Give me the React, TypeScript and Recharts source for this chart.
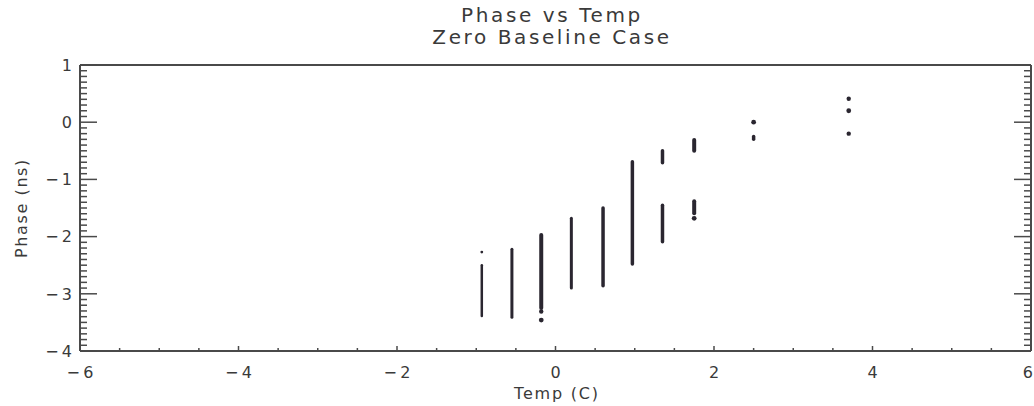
import React from 'react';
import { ScatterChart, Scatter, XAxis, YAxis } from 'recharts';

// Vertical runs of samples: temperature (C), lowest and highest phase (ns)
const segTemp = [-0.93, -0.55, -0.18, 0.2, 0.6, 0.97, 1.35, 1.35, 1.75, 1.75, 2.5];
const segLow = [-3.39, -3.41, -3.25, -2.9, -2.86, -2.48, -2.09, -0.71, -1.59, -0.5, -0.3];
const segHigh = [-2.5, -2.22, -1.97, -1.68, -1.5, -0.69, -1.45, -0.5, -1.38, -0.31, -0.25];
const segWidth = [2.5, 3, 4, 3, 3.5, 3.5, 3.5, 3.5, 4, 4, 3.5];

// Isolated samples
const dotTemp = [-0.93, -0.18, -0.18, 1.75, 2.5, 3.7, 3.7, 3.7];
const dotPhase = [-2.27, -3.31, -3.46, -1.68, 0.0, 0.41, 0.2, -0.2];
const dotSize = [1.4, 2.2, 2.4, 2.4, 2.4, 2.2, 2.4, 2.2];

const xMajorTicks = [-6, -4, -2, 0, 2, 4, 6];
const yMajorTicks = [-4, -3, -2, -1, 0, 1];
const xMinorStep = 0.5;
const yMinorStep = 0.1;

const titleLine1 = 'Phase vs Temp';
const titleLine2 = 'Zero Baseline Case';
const xTitle = 'Temp (C)';
const yTitle = 'Phase (ns)';

function stepTicks(lo: number, hi: number, step: number): number[] {
  const n = Math.round((hi - lo) / step);
  const out: number[] = [];
  for (let i = 0; i <= n; i++) out.push(Math.round((lo + i * step) * 1000) / 1000);
  return out;
}

const xTicks = stepTicks(xMajorTicks[0], xMajorTicks[xMajorTicks.length - 1], xMinorStep);
const yTicks = stepTicks(yMajorTicks[0], yMajorTicks[yMajorTicks.length - 1], yMinorStep);

const segments = segTemp.map((t, i) => ({
  data: [
    { t, p: segLow[i] },
    { t, p: segHigh[i] },
  ],
  w: segWidth[i],
}));
const dots = dotTemp.map((t, i) => ({ t, p: dotPhase[i], r: dotSize[i] }));

const INK = '#2a2630';
const AXIS = '#4a4a4a';
const TEXT = '#3a3a3a';
const FONT = '"DejaVu Sans", sans-serif';

const fmt = (v: number) => (v < 0 ? '\u2212\u2009' + Math.abs(v) : String(v));
const isMajorX = (v: number) => xMajorTicks.some((m) => Math.abs(m - v) < 1e-6);
const isMajorY = (v: number) => yMajorTicks.some((m) => Math.abs(m - v) < 1e-6);

const PLOT_TOP = 65;
const PLOT_BOTTOM = 351;
const PLOT_LEFT = 80;
const PLOT_RIGHT = 1031;

const BottomTick = (props: any) => {
  const { x, payload } = props;
  const y = PLOT_BOTTOM;
  const v = payload.value;
  const major = isMajorX(v);
  const isLast = Math.abs(v - xMajorTicks[xMajorTicks.length - 1]) < 1e-6;
  return (
    <g>
      <line x1={x} x2={x} y1={y} y2={y - (major ? 5 : 3)} stroke={AXIS} strokeWidth={1.5} />
      {major && (
        <text
          x={isLast ? x + 2 : x}
          y={y + 27}
          textAnchor={isLast ? 'end' : 'middle'}
          fontSize={16}
          fontFamily={FONT}
          fill={TEXT}
        >
          {fmt(v)}
        </text>
      )}
    </g>
  );
};

const TopTick = (props: any) => {
  const { x, payload } = props;
  const y = PLOT_TOP;
  const major = isMajorX(payload.value);
  return <line x1={x} x2={x} y1={y} y2={y + (major ? 5 : 3)} stroke={AXIS} strokeWidth={1.5} />;
};

const LeftTick = (props: any) => {
  const { y, payload } = props;
  const x = PLOT_LEFT;
  const v = payload.value;
  const major = isMajorY(v);
  return (
    <g>
      <line x1={x} x2={x + (major ? 17 : 7)} y1={y} y2={y} stroke={AXIS} strokeWidth={1.5} />
      {major && (
        <text x={x - 8} y={y} dy="0.36em" textAnchor="end" fontSize={16} fontFamily={FONT} fill={TEXT}>
          {fmt(v)}
        </text>
      )}
    </g>
  );
};

const RightTick = (props: any) => {
  const { y, payload } = props;
  const x = PLOT_RIGHT;
  const major = isMajorY(payload.value);
  return <line x1={x} x2={x - (major ? 17 : 7)} y1={y} y2={y} stroke={AXIS} strokeWidth={1.5} />;
};

const DotShape = (props: any) => {
  const { cx, cy, payload } = props;
  return <circle cx={cx} cy={cy} r={payload.r} fill={INK} />;
};

const NoShape = () => <g />;

export default function App() {
  return (
    <div style={{ position: 'absolute', left: 0, top: 0, width: 1034, height: 406, background: '#fff' }}>
      <ScatterChart
        width={1034}
        height={406}
        margin={{ top: PLOT_TOP - 1, right: 1034 - PLOT_RIGHT - 1, bottom: 406 - PLOT_BOTTOM - 1, left: PLOT_LEFT - 1 }}
      >
        <XAxis
          xAxisId={0}
          dataKey="t"
          type="number"
          domain={[-6, 6]}
          ticks={xTicks}
          interval={0}
          allowDataOverflow
          height={1}
          tickSize={0}
          tickMargin={0}
          tickLine={false}
          tick={<BottomTick />}
          axisLine={{ stroke: AXIS, strokeWidth: 2 }}
        />
        <XAxis
          xAxisId="top"
          orientation="top"
          type="number"
          domain={[-6, 6]}
          ticks={xTicks}
          interval={0}
          allowDataOverflow
          height={1}
          tickSize={0}
          tickMargin={0}
          tickLine={false}
          tick={<TopTick />}
          axisLine={{ stroke: AXIS, strokeWidth: 2 }}
        />
        <YAxis
          yAxisId={0}
          dataKey="p"
          type="number"
          domain={[-4, 1]}
          ticks={yTicks}
          interval={0}
          allowDataOverflow
          width={1}
          tickSize={0}
          tickMargin={0}
          tickLine={false}
          tick={<LeftTick />}
          axisLine={{ stroke: AXIS, strokeWidth: 2 }}
        />
        <YAxis
          yAxisId="right"
          orientation="right"
          type="number"
          domain={[-4, 1]}
          ticks={yTicks}
          interval={0}
          allowDataOverflow
          width={1}
          tickSize={0}
          tickMargin={0}
          tickLine={false}
          tick={<RightTick />}
          axisLine={{ stroke: AXIS, strokeWidth: 2 }}
        />
        {segments.map((s, i) => (
          <Scatter
            key={'seg' + i}
            data={s.data}
            line={{ stroke: INK, strokeWidth: s.w, strokeLinecap: 'round' } as any}
            lineType="joint"
            shape={<NoShape />}
            fill={INK}
            isAnimationActive={false}
          />
        ))}
        <Scatter data={dots} shape={<DotShape />} fill={INK} isAnimationActive={false} />
      </ScatterChart>
      <div
        style={{
          position: 'absolute',
          left: 0,
          width: 1104,
          top: 4,
          textAlign: 'center',
          fontFamily: FONT,
          fontSize: 20,
          lineHeight: '22px',
          letterSpacing: 2.6,
          color: TEXT,
          whiteSpace: 'pre',
        }}
      >
        {titleLine1}
        {'\n'}
        {titleLine2}
      </div>
      <div
        style={{
          position: 'absolute',
          left: 457,
          width: 200,
          top: 384,
          textAlign: 'center',
          fontFamily: FONT,
          fontSize: 16,
          lineHeight: '20px',
          letterSpacing: 1.8,
          color: TEXT,
        }}
      >
        {xTitle}
      </div>
      <div
        style={{
          position: 'absolute',
          left: 22,
          top: 208,
          width: 200,
          marginLeft: -100,
          marginTop: -10,
          textAlign: 'center',
          fontFamily: FONT,
          fontSize: 16,
          lineHeight: '20px',
          letterSpacing: 1.6,
          color: TEXT,
          transform: 'rotate(-90deg)',
        }}
      >
        {yTitle}
      </div>
    </div>
  );
}
